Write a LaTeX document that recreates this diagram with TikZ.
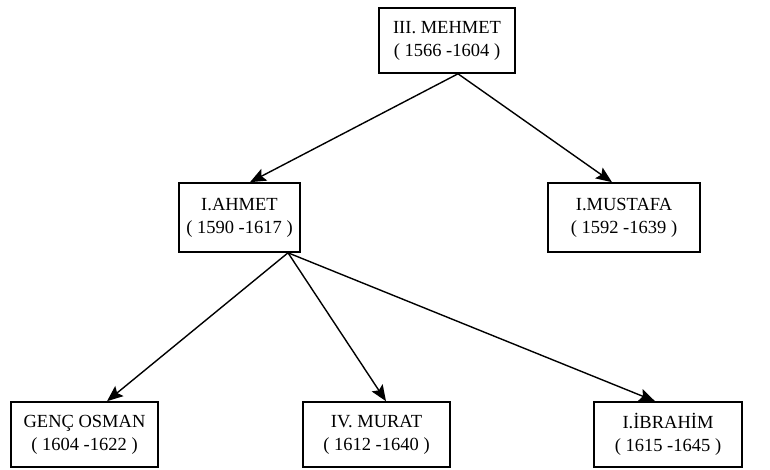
\documentclass[tikz,border=0pt]{standalone}
\usepackage{fontspec}
\setmainfont{Liberation Serif}
\usetikzlibrary{arrows.meta,calc}
\begin{document}
\begin{tikzpicture}[x=1pt,y=-1pt,
  person/.style={draw, line width=1.6pt, inner sep=0pt, align=center,
    font=\fontsize{18.5}{23}\selectfont},
  link/.style={line width=1.4pt, -{Stealth[length=16pt,width=13pt,inset=3pt]}}]
\useasboundingbox (0,0) rectangle (770,470);

% family boxes
\node[person, minimum width=136pt, minimum height=65pt] (mehmet) at (447,40.5) {III. MEHMET\\( 1566 -1604 )};
\node[person, minimum width=121pt, minimum height=69pt] (ahmet) at (239.5,217.5) {I.AHMET\\( 1590 -1617 )};
\node[person, minimum width=152pt, minimum height=69pt] (mustafa) at (624,217.5) {I.MUSTAFA\\( 1592 -1639 )};
\node[person, minimum width=147pt, minimum height=65pt] (osman) at (84.5,434.5) {GENÇ OSMAN\\( 1604 -1622 )};
\node[person, minimum width=147pt, minimum height=65pt] (murat) at (376.5,434.5) {IV. MURAT\\( 1612 -1640 )};
\node[person, minimum width=148pt, minimum height=65pt] (ibrahim) at (668,434.5) {I.İBRAHİM\\( 1615 -1645 )};

% parent to child links
\coordinate (m0) at ([xshift=11pt]mehmet.south);
\coordinate (a0) at ([xshift=48.5pt]ahmet.south);
\draw[link] (m0) -- ([xshift=10.5pt]ahmet.north);
\draw[link] (m0) -- ([xshift=-12pt]mustafa.north);
\draw[link] (a0) -- ([xshift=22.5pt]osman.north);
\draw[link] (a0) -- ([xshift=9.5pt]murat.north);
\draw[link] (a0) -- ([xshift=-13pt]ibrahim.north);
\end{tikzpicture}
\end{document}
